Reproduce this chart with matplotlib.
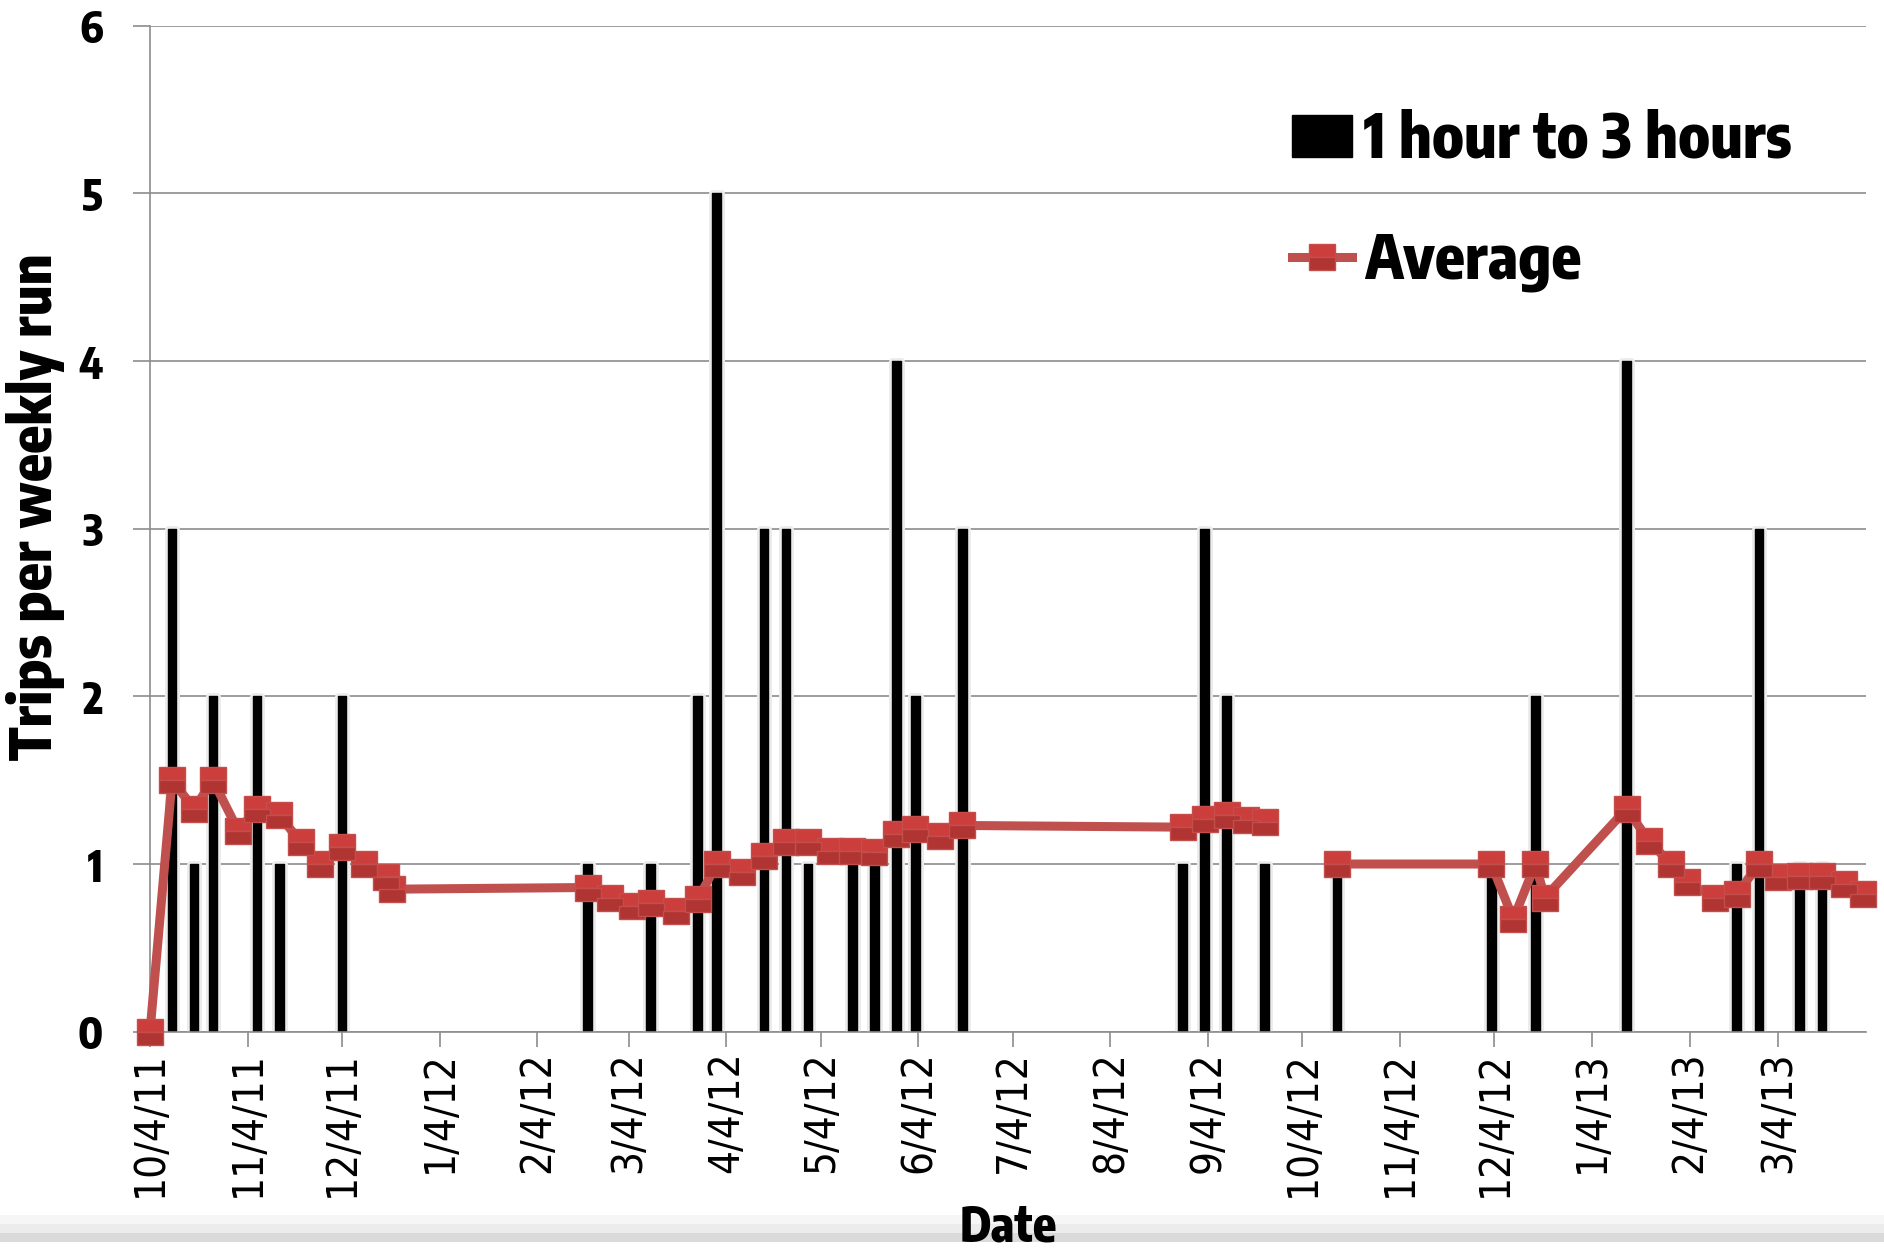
import numpy as np
import matplotlib
matplotlib.use('Agg')
import matplotlib.pyplot as plt
import matplotlib.dates as mdates
from matplotlib import font_manager, patheffects
from matplotlib.font_manager import FontProperties
from matplotlib.textpath import TextPath
from matplotlib.patches import Rectangle, Patch
from matplotlib.lines import Line2D
from matplotlib.ticker import FuncFormatter

# weekly runs (one gap in the average around october 2012)
run_dates = ['2011-10-04', '2011-10-11', '2011-10-18', '2011-10-24', '2011-11-01', '2011-11-07',
             '2011-11-14', '2011-11-21', '2011-11-27', '2011-12-04', '2011-12-11', '2011-12-18',
             '2011-12-20', '2012-02-20', '2012-02-27', '2012-03-05', '2012-03-11', '2012-03-19',
             '2012-03-26', '2012-04-01', '2012-04-09', '2012-04-16', '2012-04-23', '2012-04-30',
             '2012-05-07', '2012-05-14', '2012-05-21', '2012-05-28', '2012-06-03', '2012-06-11',
             '2012-06-18', '2012-08-27', '2012-09-03', '2012-09-10', '2012-09-16', '2012-09-22',
             '2012-10-01',
             '2012-10-15', '2012-12-03', '2012-12-10', '2012-12-17', '2012-12-20', '2013-01-15',
             '2013-01-22', '2013-01-29', '2013-02-03', '2013-02-12', '2013-02-19', '2013-02-26',
             '2013-03-04', '2013-03-11', '2013-03-18', '2013-03-25', '2013-03-31']

trips_1to3h = [0, 3, 1, 2, 0, 2, 1, 0, 0, 2, 0, 0,
               0, 1, 0, 0, 1, 0, 2, 5, 0, 3, 3, 1,
               0, 1, 1, 4, 2, 0, 3, 1, 3, 2, 0, 1,
               0,
               1, 1, 0, 2, 0, 4, 0, 0, 0, 0, 1, 3,
               0, 1, 1, 0, 0]

average = [0.0, 1.5, 1.33, 1.5, 1.2, 1.33, 1.29, 1.13, 1.0, 1.1, 1.0, 0.92,
           0.85, 0.86, 0.8, 0.75, 0.77, 0.72, 0.79, 1.0, 0.95, 1.05, 1.13, 1.13,
           1.08, 1.08, 1.07, 1.18, 1.21, 1.17, 1.23, 1.22, 1.27, 1.29, 1.26, 1.25,
           np.nan,
           1.0, 1.0, 0.67, 1.0, 0.8, 1.33, 1.14, 1.0, 0.89, 0.8, 0.82, 1.0,
           0.92, 0.93, 0.93, 0.88, 0.82]

y_ticks = [0, 1, 2, 3, 4, 5, 6]
series_names = ['1 hour to 3 hours', 'Average']


# narrow sans faces: among condensed font files take the one whose proportions
# come closest to a narrow grotesque
def weight_num(w):
    return w if isinstance(w, (int, float)) else font_manager.weight_dict.get(w, 400)


def ink(fp, text):
    ext = TextPath((0, 0), text, size=100, prop=fp).get_extents()
    return ext.width, ext.height


def pick_narrow(target_weight, sample, ratio):
    best, best_err = None, None
    seen = set()
    for f in font_manager.fontManager.ttflist:
        if f.fname in seen or f.style != 'normal':
            continue
        seen.add(f.fname)
        if 'Mono' in f.name or 'Serif' in f.name:
            continue
        if abs(weight_num(f.weight) - target_weight) > 150:
            continue
        if not ('Narrow' in f.name or 'Condensed' in f.name or 'condensed' in str(f.stretch)):
            continue
        try:
            w, h = ink(FontProperties(fname=f.fname), sample)
        except Exception:
            continue
        err = abs(w / h - ratio)
        if best is None or err < best_err:
            best, best_err = f.fname, err
    return best


bold_file = pick_narrow(700, 'Date', 2.54)
regular_file = pick_narrow(400, '10/4/11', 3.9)


def font(bold):
    f = bold_file if bold else regular_file
    if f is None:
        return FontProperties(family='Liberation Sans', weight='bold' if bold else 'normal')
    return FontProperties(fname=f)


def fitted(text, width_px=None, height_px=None, bold=False):
    # font size (pt) giving the ink of `text` the wanted size at 100 dpi
    fp = font(bold)
    w, h = ink(fp, text)
    if width_px is not None:
        fp.set_size(72.0 * width_px / w)
    else:
        fp.set_size(72.0 * height_px / h)
    return fp


fp_ytick = fitted('0', height_px=32, bold=True)
fp_xtick = fitted('10/4/11', width_px=138)
fp_label = fitted('Trips per weekly run', width_px=505, bold=True)
fp_date = fitted('Date', width_px=94, bold=True)
fp_leg = fitted(series_names[0], width_px=427, bold=True)

W, H = 1884, 1254
fig = plt.figure(figsize=(W / 100, H / 100), dpi=100)
ax = fig.add_axes([150 / W, 1 - 1031.7 / H, (1866 - 150) / W, (1031.7 - 25.7) / H])

x = np.array(run_dates, dtype='datetime64[D]')
bars = np.array(trips_1to3h)
avg = np.array(average, dtype=float)

grid_col = '#8c8c8c'
red = '#c0504d'

# black columns with a faint grey halo
nz = bars > 0
ax.bar(x[nz], bars[nz], width=2.8, color='black', edgecolor='black', linewidth=1,
       joinstyle='round', zorder=2,
       path_effects=[patheffects.withStroke(linewidth=5, foreground='#ececec')])

ax.plot(x, avg, color=red, lw=6.5, marker='s', markersize=19, fillstyle='top',
        markerfacecolor='#cb3e3c', markerfacecoloralt='#b03432',
        markeredgecolor='#c44e4c', markeredgewidth=1, zorder=3, clip_on=False)

ax.set_xlim(x[0], x[-1] + np.timedelta64(1, 'D'))
ax.set_ylim(0, 6)
ax.set_yticks(y_ticks)
ax.set_yticklabels([str(v) for v in y_ticks], fontproperties=fp_ytick)

ax.xaxis.set_major_locator(mdates.MonthLocator(bymonthday=4))
ax.xaxis.set_major_formatter(FuncFormatter(
    lambda v, p: '{d.month}/{d.day}/{d:%y}'.format(d=mdates.num2date(v))))

ax.tick_params(axis='x', direction='out', length=11, width=1.2, color=grid_col, pad=3,
               labelrotation=90)
ax.tick_params(axis='y', direction='out', length=12, width=1.2, color=grid_col, pad=22)
fig.canvas.draw()
for lbl in ax.get_xticklabels():
    lbl.set_fontproperties(fp_xtick)

ax.yaxis.grid(True, color=grid_col, lw=1.2)
ax.set_axisbelow(True)
for s in ['top', 'right']:
    ax.spines[s].set_visible(False)
for s in ['left', 'bottom']:
    ax.spines[s].set_color(grid_col)
    ax.spines[s].set_linewidth(1.2)

fig.text(36 / W, 1 - 507 / H, 'Trips per weekly run', rotation=90, ha='center', va='center',
         fontproperties=fp_label)

# grey band along the bottom edge
for y0, y1, c in [(1215, 1224, '#f6f6f6'), (1224, 1233, '#ececec'), (1233, 1242, '#dadada')]:
    fig.add_artist(Rectangle((0, 1 - y1 / H), 1, (y1 - y0) / H, transform=fig.transFigure,
                             color=c, lw=0, zorder=0))
fig.text(1008 / W, 1 - 1253 / H, 'Date', ha='center', va='bottom', fontproperties=fp_date,
         zorder=5)

fs_px = fp_leg.get_size_in_points() * 100 / 72
handles = [Patch(facecolor='black', edgecolor='black', joinstyle='round'),
           Line2D([], [], color=red, lw=6.5, marker='s', markersize=19, fillstyle='top',
                  markerfacecolor='#cb3e3c', markerfacecoloralt='#b03432',
                  markeredgecolor='#c44e4c')]

# legend rows: box centred 136 px from the top, line 121 px below it
spacing, top = 0.75, 108.0
for _ in range(4):
    leg = ax.legend(handles, series_names, loc='upper left',
                    bbox_to_anchor=(1292 / W, 1 - top / H), bbox_transform=fig.transFigure,
                    frameon=False, prop=fp_leg, handlelength=60 / fs_px,
                    handleheight=40 / fs_px, handletextpad=0.2, labelspacing=spacing,
                    borderpad=0, borderaxespad=0)
    fig.canvas.draw()
    r = fig.canvas.get_renderer()
    c0 = H - leg.legend_handles[0].get_window_extent(r).get_points()[:, 1].mean()
    c1 = H - leg.legend_handles[1].get_window_extent(r).get_points()[:, 1].mean()
    spacing += (121 - (c1 - c0)) / fs_px
    top += 136 - c0

fig.savefig('out.png', dpi=100)
